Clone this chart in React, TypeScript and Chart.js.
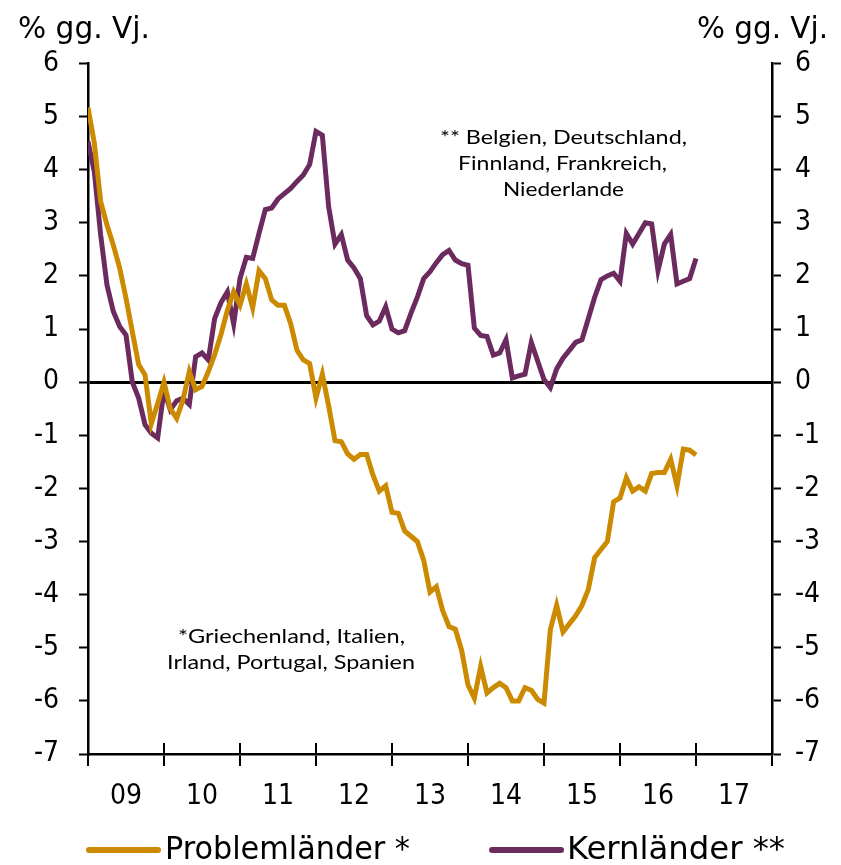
import React, { useEffect, useRef } from 'react';
import { Chart, registerables } from 'chart.js';

Chart.register(...registerables);

// Monthly observations, Jan 2009 .. Jan 2017 (index = months since Jan 2009)
const yearLabels = ['09', '10', '11', '12', '13', '14', '15', '16', '17'];

const problemlaender = [
  5.17, 4.5, 3.4, 2.96, 2.58, 2.15, 1.58, 0.95, 0.33, 0.14,
  -0.78, -0.4, 0.0, -0.5, -0.68, -0.33, 0.2, -0.14, -0.08, 0.2,
  0.52, 0.9, 1.35, 1.7, 1.45, 1.85, 1.4, 2.1, 1.95, 1.55,
  1.45, 1.45, 1.1, 0.6, 0.42, 0.35, -0.3, 0.15, -0.45, -1.1,
  -1.12, -1.35, -1.45, -1.36, -1.36, -1.75, -2.05, -1.95, -2.45, -2.47,
  -2.8, -2.9, -3.0, -3.35, -3.95, -3.85, -4.3, -4.6, -4.65, -5.05,
  -5.7, -5.95, -5.35, -5.85, -5.75, -5.67, -5.75, -6.0, -6.0, -5.75,
  -5.8, -5.97, -6.04, -4.66, -4.2, -4.7, -4.55, -4.4, -4.2, -3.9,
  -3.3, -3.15, -3.0, -2.25, -2.18, -1.8, -2.05, -1.97, -2.05, -1.72,
  -1.7, -1.7, -1.45, -1.95, -1.26, -1.28, -1.37,
];

const kernlaender = [
  4.53, 3.96, 2.77, 1.83, 1.33, 1.05, 0.89, 0.0, -0.3, -0.8,
  -0.96, -1.05, -0.15, -0.52, -0.35, -0.3, -0.42, 0.48, 0.55, 0.42,
  1.2, 1.5, 1.7, 1.1, 1.95, 2.35, 2.33, 2.8, 3.25, 3.28,
  3.45, 3.55, 3.65, 3.78, 3.9, 4.1, 4.72, 4.65, 3.3, 2.6,
  2.78, 2.3, 2.15, 1.95, 1.25, 1.08, 1.15, 1.42, 1.0, 0.93,
  0.97, 1.3, 1.6, 1.95, 2.08, 2.25, 2.4, 2.48, 2.3, 2.23,
  2.2, 1.02, 0.88, 0.86, 0.51, 0.55, 0.8, 0.08, 0.12, 0.15,
  0.75, 0.4, 0.05, -0.1, 0.25, 0.45, 0.6, 0.75, 0.8, 1.2,
  1.6, 1.93, 2.0, 2.05, 1.9, 2.8, 2.6, 2.8, 3.0, 2.98,
  2.1, 2.6, 2.78, 1.85, 1.9, 1.95, 2.33,
];

const seriesNames = ['Problemländer *', 'Kernländer **'];
const noteCore = ['** Belgien, Deutschland,', 'Finnland, Frankreich,', 'Niederlande'];
const noteProblem = ['*Griechenland, Italien,', 'Irland, Portugal, Spanien'];
const unitLabel = '% gg. Vj.';

const ORANGE = '#CC8A00';
const PURPLE = '#6B2B5F';
const NARROW = "'Liberation Sans Narrow', 'DejaVu Sans Condensed', 'Roboto Condensed', sans-serif";
const NOTE_FONT = "Lato, 'Open Sans', sans-serif";

function fitText(c: CanvasRenderingContext2D, text: string, x: number, y: number, width: number) {
  const w = c.measureText(text).width;
  c.save();
  c.translate(x, y);
  c.scale(width / w, 1);
  c.textAlign = 'left';
  c.fillText(text, 0, 0);
  c.restore();
}

export default function App() {
  const ref = useRef<HTMLCanvasElement>(null);

  useEffect(() => {
    document.body.style.margin = '0';
    const canvas = ref.current!;

    const extras = {
      id: 'extras',
      afterDraw(chart: any) {
        const c: CanvasRenderingContext2D = chart.ctx;
        const xs = chart.scales.x;
        const area = chart.chartArea;
        c.save();
        // upper half of the x tick marks (crossing the axis)
        c.strokeStyle = '#000';
        c.lineWidth = 2;
        for (let v = 0; v <= 108; v += 12) {
          const px = xs.getPixelForValue(v);
          c.beginPath();
          c.moveTo(px, area.bottom - 11);
          c.lineTo(px, area.bottom);
          c.stroke();
        }
        // unit labels
        c.fillStyle = '#000';
        c.textBaseline = 'middle';
        c.font = `30px ${NARROW}`;
        fitText(c, unitLabel, 18, 30, 132);
        fitText(c, unitLabel, 697, 30, 131);
        // notes
        c.font = `20px ${NOTE_FONT}`;
        const core = [
          [440, 138, 247],
          [458, 164, 209],
          [503, 190, 121],
        ];
        noteCore.forEach((t, i) => fitText(c, t, core[i][0], core[i][1], core[i][2]));
        const prob = [
          [178, 637, 227],
          [167, 663, 248],
        ];
        noteProblem.forEach((t, i) => fitText(c, t, prob[i][0], prob[i][1], prob[i][2]));
        // legend
        c.lineWidth = 6;
        c.lineCap = 'round';
        c.strokeStyle = ORANGE;
        c.beginPath();
        c.moveTo(89, 850);
        c.lineTo(158, 850);
        c.stroke();
        c.strokeStyle = PURPLE;
        c.beginPath();
        c.moveTo(492, 850);
        c.lineTo(561, 850);
        c.stroke();
        c.font = `32px ${NARROW}`;
        fitText(c, seriesNames[0], 165, 851, 245);
        fitText(c, seriesNames[1], 567, 851, 218);
        c.restore();
      },
    };

    const chart = new Chart(canvas, {
      type: 'line',
      data: {
        datasets: [
          {
            label: seriesNames[0],
            data: problemlaender.map((v, i) => ({ x: i, y: v })),
            borderColor: ORANGE,
            borderWidth: 5,
            pointRadius: 0,
            tension: 0,
            yAxisID: 'y',
          },
          {
            label: seriesNames[1],
            data: kernlaender.map((v, i) => ({ x: i, y: v })),
            borderColor: PURPLE,
            borderWidth: 5,
            pointRadius: 0,
            tension: 0,
            yAxisID: 'y',
          },
        ],
      },
      options: {
        animation: false,
        responsive: false,
        maintainAspectRatio: false,
        layout: { padding: { top: 63.5, left: 0, right: 0, bottom: 0 } },
        plugins: { legend: { display: false }, tooltip: { enabled: false } },
        scales: {
          x: {
            type: 'linear',
            min: 0,
            max: 108,
            border: { display: true, color: '#000', width: 2.5 },
            grid: {
              drawOnChartArea: false,
              drawTicks: true,
              tickLength: 12,
              color: (ctx: any) => (ctx.tick && ctx.tick.value % 12 === 0 ? '#000' : 'rgba(0,0,0,0)'),
              lineWidth: 2,
            },
            ticks: {
              stepSize: 6,
              autoSkip: false,
              maxRotation: 0,
              padding: 14,
              color: '#000',
              font: { size: 28, family: NARROW },
              callback: (value: any) => {
                const v = Number(value);
                return v % 12 === 6 ? yearLabels[(v - 6) / 12] : '';
              },
            },
            afterFit: (s: any) => {
              s.height = 111;
            },
          },
          y: {
            position: 'left',
            min: -7,
            max: 6,
            border: { display: true, color: '#000', width: 2.5 },
            grid: {
              drawOnChartArea: true,
              color: (ctx: any) => (ctx.tick && ctx.tick.value === 0 ? '#000' : 'rgba(0,0,0,0)'),
              lineWidth: 3,
              tickColor: '#000',
              tickWidth: 2,
              tickLength: 9,
            },
            ticks: {
              stepSize: 1,
              padding: 20,
              color: '#000',
              font: { size: 28, family: NARROW },
            },
            afterFit: (s: any) => {
              s.width = 88;
            },
          },
          y2: {
            position: 'right',
            min: -7,
            max: 6,
            border: { display: true, color: '#000', width: 2.5 },
            grid: {
              drawOnChartArea: false,
              tickColor: '#000',
              tickWidth: 2,
              tickLength: 9,
            },
            ticks: {
              stepSize: 1,
              padding: 14,
              color: '#000',
              font: { size: 28, family: NARROW },
            },
            afterFit: (s: any) => {
              s.width = 69;
            },
          },
        },
      },
      plugins: [extras],
    } as any);

    return () => chart.destroy();
  }, []);

  return <canvas ref={ref} width={841} height={865} style={{ display: 'block', width: 841, height: 865 }} />;
}
